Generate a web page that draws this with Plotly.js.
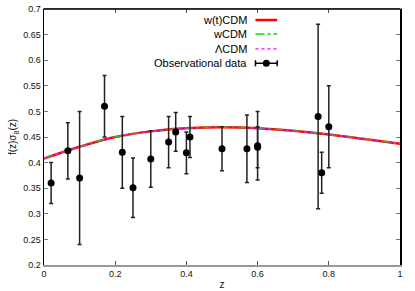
<!DOCTYPE html>
<html>
<head>
<meta charset="utf-8">
<script src="https://cdn.plot.ly/plotly-3.0.1.min.js"></script>
<style>html,body{margin:0;padding:0;background:#fff;}#chart{width:415px;height:291px;}</style>
</head>
<body>
<div id="chart"></div>
<script>
// Observational f*sigma8 data
var obsZ   = [0.02, 0.067, 0.10, 0.17, 0.22, 0.25, 0.30, 0.35, 0.37, 0.40, 0.41, 0.50, 0.57, 0.60, 0.60, 0.77, 0.78, 0.80];
var obsF   = [0.360, 0.423, 0.370, 0.510, 0.420, 0.351, 0.407, 0.440, 0.460, 0.419, 0.450, 0.427, 0.427, 0.430, 0.433, 0.490, 0.380, 0.470];
var obsErr = [0.040, 0.055, 0.130, 0.060, 0.070, 0.058, 0.055, 0.050, 0.038, 0.041, 0.040, 0.043, 0.066, 0.040, 0.067, 0.180, 0.040, 0.080];

// Theory curves
var zTheory  = [0.0, 0.1, 0.2, 0.3, 0.4, 0.5, 0.6, 0.7, 0.8, 0.9, 1.0];
var wtCDM    = [0.408, 0.431, 0.450, 0.461, 0.467, 0.469, 0.467, 0.462, 0.455, 0.446, 0.437];
var wCDM     = [0.408, 0.431, 0.450, 0.461, 0.467, 0.469, 0.467, 0.462, 0.455, 0.446, 0.437];
var LCDM     = [0.408, 0.431, 0.450, 0.461, 0.467, 0.469, 0.467, 0.462, 0.455, 0.446, 0.437];

var legendNames = ['w(t)CDM', 'wCDM', '\u039BCDM', 'Observational data'];

var FONT = 'Liberation Sans, Arial, Helvetica, sans-serif';

var traces = [
  {x: zTheory, y: wtCDM, mode: 'lines', line: {color: '#ff0000', width: 2.5, shape: 'spline'}, name: legendNames[0], hoverinfo: 'skip'},
  {x: zTheory, y: wCDM, mode: 'lines', line: {color: '#00e000', width: 1.5, dash: 'dashdot', shape: 'spline'}, name: legendNames[1], hoverinfo: 'skip'},
  {x: zTheory, y: LCDM, mode: 'lines', line: {color: '#ff00ff', width: 1.2, dash: 'dot', shape: 'spline'}, name: legendNames[2], hoverinfo: 'skip'},
  {x: obsZ, y: obsF, mode: 'markers', name: legendNames[3],
   marker: {color: '#000', size: 7},
   error_y: {type: 'data', array: obsErr, visible: true, color: '#222', thickness: 1.5, width: 2}}
];

// Gnuplot-style legend (text right, sample to its right)
var legTextX = 0.577, sx0 = 0.594, sx1 = 0.655;
var legY = [0.957, 0.902, 0.844, 0.788];
var annotations = legendNames.map(function(n, i){
  return {xref: 'paper', yref: 'paper', x: legTextX, y: legY[i], text: n, showarrow: false,
          xanchor: 'right', yanchor: 'middle', font: {family: FONT, size: 11, color: '#000'}};
});
var shapes = [
  {type: 'line', xref: 'paper', yref: 'paper', x0: sx0, x1: sx1, y0: legY[0], y1: legY[0], line: {color: '#ff0000', width: 2.5}},
  {type: 'line', xref: 'paper', yref: 'paper', x0: sx0, x1: sx1, y0: legY[1], y1: legY[1], line: {color: '#00e000', width: 1.5, dash: 'dashdot'}},
  {type: 'line', xref: 'paper', yref: 'paper', x0: sx0, x1: sx1, y0: legY[2], y1: legY[2], line: {color: '#ff00ff', width: 1.2, dash: 'dot'}},
  {type: 'line', xref: 'paper', yref: 'paper', x0: sx0, x1: sx1, y0: legY[3], y1: legY[3], line: {color: '#000', width: 1.5}},
  {type: 'line', xref: 'paper', yref: 'paper', x0: sx0, x1: sx0, y0: legY[3]-0.012, y1: legY[3]+0.012, line: {color: '#000', width: 1.5}},
  {type: 'line', xref: 'paper', yref: 'paper', x0: sx1, x1: sx1, y0: legY[3]-0.012, y1: legY[3]+0.012, line: {color: '#000', width: 1.5}},
  {type: 'circle', xref: 'paper', yref: 'paper', x0: (sx0+sx1)/2-0.0098, x1: (sx0+sx1)/2+0.0098, y0: legY[3]-0.0137, y1: legY[3]+0.0137, fillcolor: '#000', line: {color: '#000', width: 0}},
  {type: 'line', xref: 'paper', yref: 'paper', x0: 0, x1: 1, y0: 1, y1: 1, line: {color: '#000', width: 1.5}}
];

var layout = {
  width: 415, height: 291,
  margin: {l: 44, r: 15, t: 9, b: 26, pad: 0},
  paper_bgcolor: '#fff', plot_bgcolor: '#fff',
  showlegend: false,
  font: {family: FONT, size: 9, color: '#111'},
  xaxis: {
    range: [0, 1], tickmode: 'array', tickvals: [0, 0.2, 0.4, 0.6, 0.8, 1], ticktext: ['0', '0.2', '0.4', '0.6', '0.8', '1'],
    ticks: 'inside', ticklen: 4, tickcolor: '#555', showline: true, linecolor: '#999', linewidth: 1.5, mirror: 'ticks',
    showgrid: false, zeroline: false, automargin: false,
    tickfont: {family: FONT, size: 9, color: '#111'},
    title: {text: 'z', font: {family: FONT, size: 10, color: '#111'}, standoff: 2}
  },
  yaxis: {
    range: [0.2, 0.7],
    tickmode: 'array', tickvals: [0.2,0.25,0.3,0.35,0.4,0.45,0.5,0.55,0.6,0.65,0.7],
    ticktext: ['0.2','0.25','0.3','0.35','0.4','0.45','0.5','0.55','0.6','0.65','0.7'],
    ticks: 'inside', ticklen: 4, tickcolor: '#777', showline: true, linecolor: '#000', linewidth: 1.5, mirror: 'ticks',
    showgrid: false, zeroline: false, automargin: false,
    tickfont: {family: FONT, size: 9, color: '#111'},
    title: {text: 'f(z)\u03C3<sub>8</sub>(z)', font: {family: FONT, size: 10, color: '#111'}, standoff: 4}
  },
  annotations: annotations,
  shapes: shapes
};

Plotly.newPlot('chart', traces, layout, {staticPlot: true, displayModeBar: false});
</script>
</body>
</html>
